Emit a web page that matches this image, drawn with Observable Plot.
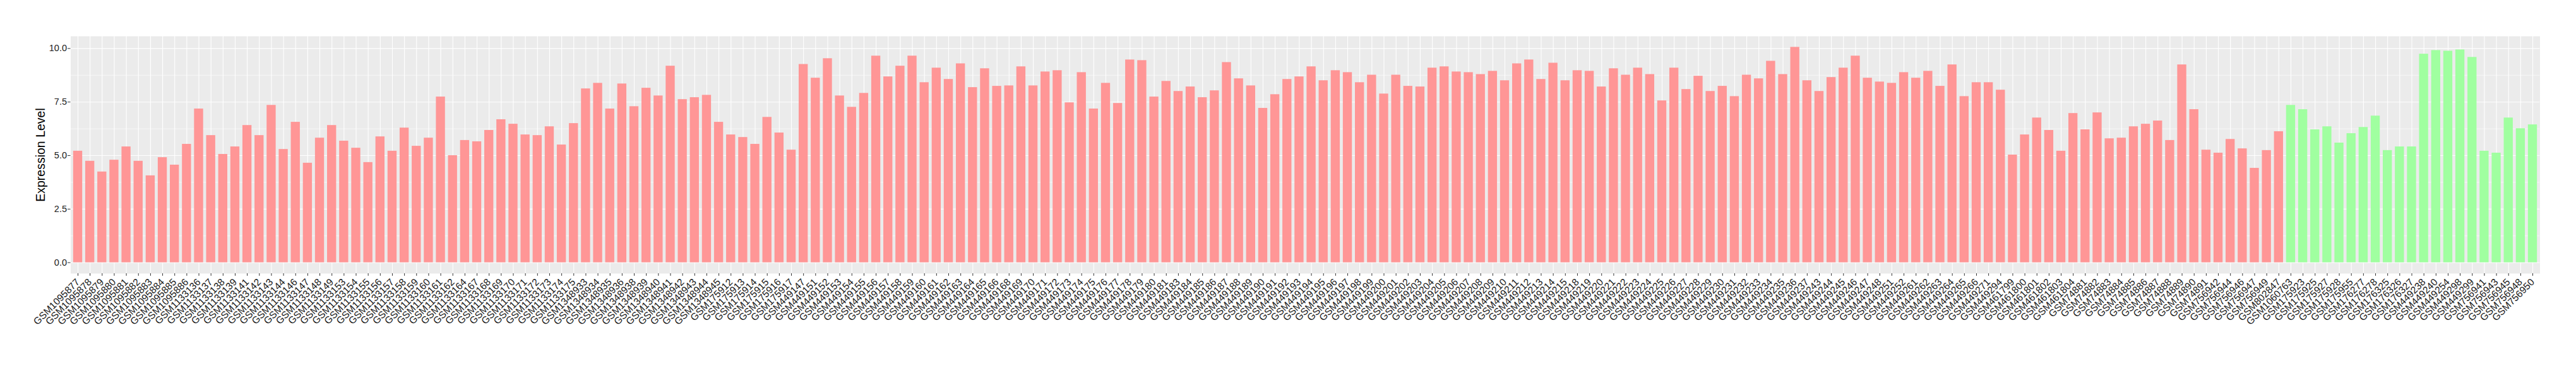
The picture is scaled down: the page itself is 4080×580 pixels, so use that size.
<!DOCTYPE html>
<html>
<head>
<meta charset="utf-8">
<script src="https://cdn.jsdelivr.net/npm/d3@7"></script>
<script src="https://cdn.jsdelivr.net/npm/@observablehq/plot@0.6"></script>
<style>
  html, body { margin: 0; padding: 0; background: #ffffff; }
  #chart { width: 4080px; height: 580px; }
</style>
</head>
<body>
<div id="chart"></div>
<script>
// Sample IDs (x categories), in plotted order
const samplesA = [
  "GSM1095877","GSM1095878","GSM1095879","GSM1095880","GSM1095881","GSM1095882","GSM1095883","GSM1095884","GSM1095885","GSM1095886",
  "GSM1133136","GSM1133137","GSM1133138","GSM1133139","GSM1133141","GSM1133142","GSM1133143","GSM1133144","GSM1133146","GSM1133147",
  "GSM1133148","GSM1133149","GSM1133153","GSM1133154","GSM1133155","GSM1133156","GSM1133157","GSM1133158","GSM1133159","GSM1133160",
  "GSM1133161","GSM1133162","GSM1133164","GSM1133167","GSM1133168","GSM1133169","GSM1133170","GSM1133171","GSM1133172","GSM1133173",
  "GSM1133174","GSM1133175","GSM1348933","GSM1348934","GSM1348935","GSM1348936","GSM1348938","GSM1348939","GSM1348940","GSM1348941",
  "GSM1348942","GSM1348943","GSM1348944","GSM1348945","GSM175912","GSM175913","GSM175914","GSM175915","GSM175916","GSM175917",
  "GSM449147","GSM449151","GSM449152","GSM449153","GSM449154","GSM449155","GSM449156","GSM449157","GSM449158","GSM449159",
  "GSM449160","GSM449161","GSM449162","GSM449163","GSM449164","GSM449165","GSM449166","GSM449168","GSM449169","GSM449170",
  "GSM449171","GSM449172","GSM449173","GSM449174","GSM449175","GSM449176","GSM449177","GSM449178","GSM449179","GSM449180",
  "GSM449181","GSM449183","GSM449184","GSM449185","GSM449186","GSM449187","GSM449188","GSM449189","GSM449190","GSM449191",
  "GSM449192","GSM449193","GSM449194","GSM449195","GSM449196","GSM449197","GSM449198","GSM449199","GSM449200","GSM449201",
  "GSM449202","GSM449203","GSM449204","GSM449205","GSM449206","GSM449207","GSM449208","GSM449209","GSM449210","GSM449211",
  "GSM449212","GSM449213","GSM449214","GSM449215","GSM449218","GSM449219","GSM449220","GSM449221","GSM449222","GSM449223",
  "GSM449224","GSM449225","GSM449226","GSM449227","GSM449228","GSM449229","GSM449230","GSM449231","GSM449232","GSM449233",
  "GSM449234","GSM449235","GSM449236","GSM449237","GSM449243","GSM449244","GSM449245","GSM449246","GSM449247","GSM449248",
  "GSM449251","GSM449252","GSM449261","GSM449262","GSM449263","GSM449264","GSM449265","GSM449266","GSM449271","GSM449294",
  "GSM461799","GSM461800","GSM461801","GSM461802","GSM461803","GSM461804","GSM74881","GSM74882","GSM74883","GSM74884",
  "GSM74885","GSM74886","GSM74887","GSM74888","GSM74889","GSM74890","GSM74891","GSM756942","GSM756944","GSM756946",
  "GSM756947","GSM756949","GSM802847"
];
const valuesA = [
  5.21,4.74,4.24,4.79,5.41,4.74,4.06,4.91,4.56,5.53,
  7.18,5.94,5.06,5.41,6.41,5.94,7.35,5.29,6.56,4.65,
  5.82,6.41,5.68,5.35,4.68,5.88,5.21,6.29,5.44,5.82,
  7.74,5.00,5.71,5.65,6.18,6.68,6.47,5.97,5.94,6.35,
  5.50,6.50,8.12,8.38,7.18,8.35,7.29,8.15,7.79,9.18,
  7.62,7.71,7.82,6.56,5.97,5.85,5.53,6.79,6.06,5.26,
  9.26,8.62,9.53,7.79,7.26,7.91,9.65,8.68,9.18,9.65,
  8.41,9.09,8.56,9.29,8.18,9.06,8.24,8.26,9.15,8.26,
  8.91,8.97,7.47,8.88,7.18,8.38,7.44,9.47,9.44,7.74,
  8.47,8.00,8.21,7.71,8.03,9.35,8.59,8.26,7.21,7.85,
  8.56,8.68,9.15,8.50,8.97,8.88,8.41,8.76,7.88,8.76,
  8.24,8.21,9.09,9.15,8.91,8.88,8.79,8.94,8.50,9.29,
  9.47,8.56,9.32,8.50,8.97,8.94,8.21,9.06,8.76,9.09,
  8.79,7.56,9.09,8.09,8.71,8.00,8.24,7.76,8.76,8.59,
  9.41,8.79,10.06,8.50,8.00,8.65,9.09,9.65,8.62,8.44,
  8.38,8.88,8.62,8.94,8.24,9.24,7.76,8.41,8.41,8.06,
  5.03,5.97,6.76,6.18,5.21,6.97,6.21,7.00,5.79,5.82,
  6.35,6.47,6.62,5.71,9.24,7.15,5.26,5.12,5.76,5.32,
  4.41,5.24,6.12
];
const samplesB = [
  "GSM1060763","GSM175923","GSM175925","GSM175927","GSM175928","GSM175955","GSM176277","GSM176278","GSM176325","GSM176326",
  "GSM176327","GSM449238","GSM449240","GSM449254","GSM449298","GSM449299","GSM756941","GSM756943","GSM756945","GSM756948",
  "GSM756950"
];
const valuesB = [
  7.35,7.15,6.21,6.35,5.59,6.03,6.32,6.85,5.24,5.41,
  5.41,9.74,9.91,9.88,9.94,9.59,5.21,5.12,6.76,6.26,
  6.44
];
const groupNames = ["A", "B"];
const groupColors = ["#ff9696", "#a0ffa0"];
const yTicks = [0, 2.5, 5, 7.5, 10];
const yMinor = [1.25, 3.75, 6.25, 8.75];
const yTitle = "Expression Level";

const data = [
  ...samplesA.map((s, i) => ({sample: s, value: valuesA[i], group: groupNames[0]})),
  ...samplesB.map((s, i) => ({sample: s, value: valuesB[i], group: groupNames[1]}))
];
const domain = data.map(d => d.sample);

const chart = Plot.plot({
  width: 4080,
  height: 580,
  marginLeft: 111.5,
  marginRight: 57.5,
  marginTop: 57,
  marginBottom: 147,
  style: {fontFamily: "'Liberation Sans', Arial, Helvetica, sans-serif", fontSize: "14.5px", background: "#ffffff", color: "#1a1a1a"},
  x: {type: "band", domain, paddingInner: 0.25, paddingOuter: 0.225},
  y: {domain: [-0.51, 10.57]},
  color: {domain: groupNames, range: groupColors},
  marks: [
    Plot.frame({fill: "#ebebeb", stroke: null}),
    Plot.ruleY(yMinor, {stroke: "#ffffff", strokeWidth: 0.6}),
    Plot.ruleY(yTicks, {stroke: "#ffffff", strokeWidth: 1.1}),
    Plot.gridX({stroke: "#ffffff", strokeOpacity: 1, strokeWidth: 1.1}),
    Plot.barY(data, {x: "sample", y: "value", fill: "group"}),
    Plot.axisY({ticks: yTicks, tickFormat: d3.format(".1f"), tickSize: 4.5, tickPadding: 1.5, fontSize: 14.5, label: null, stroke: "#333"}),
    Plot.axisX({tickRotate: -45, tickSize: 4, tickPadding: 7, fontSize: 15.5, label: null, stroke: "#333"}),
    Plot.text([yTitle], {frameAnchor: "left", textAnchor: "middle", dx: -47, rotate: -90, fontSize: 19.5, fill: "#000"})
  ]
});
document.getElementById("chart").appendChild(chart);
</script>
</body>
</html>
